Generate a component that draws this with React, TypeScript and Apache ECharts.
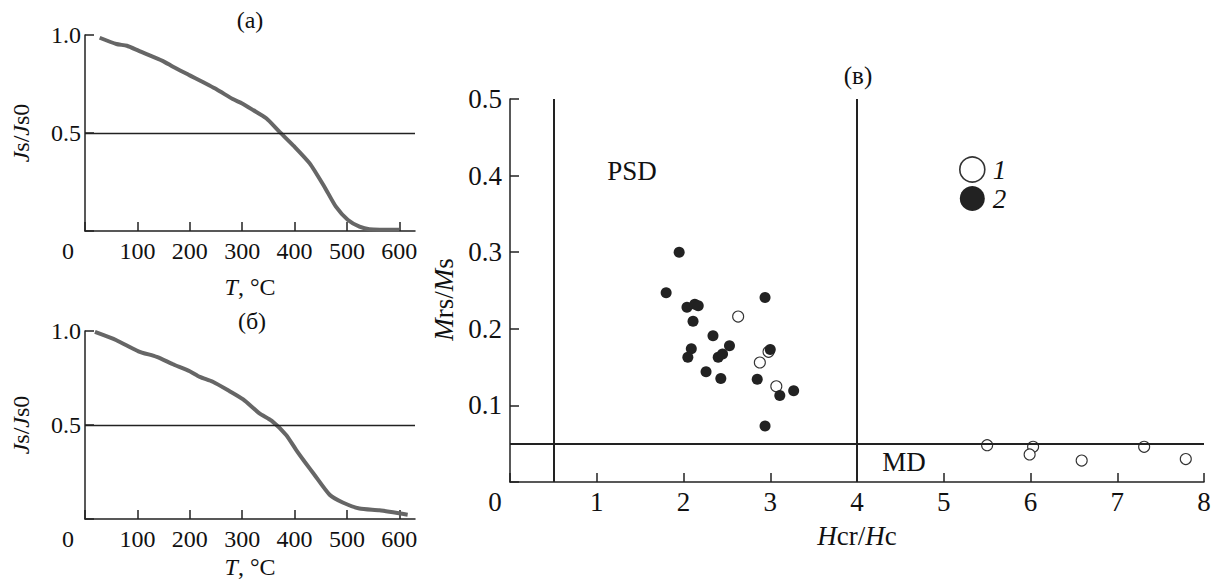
import React, { useEffect, useRef } from "react";
import * as echarts from "echarts";

// Panel (a): thermomagnetic curve
const tempA = [28, 60, 80, 102, 149, 168, 200, 251, 282, 300, 321, 346, 371, 400, 429, 457, 479, 502, 524, 543, 600];
const jsA = [0.986, 0.954, 0.945, 0.92, 0.867, 0.838, 0.794, 0.723, 0.673, 0.651, 0.617, 0.575, 0.507, 0.43, 0.345, 0.226, 0.124, 0.056, 0.022, 0.009, 0.006];

// Panel (б): thermomagnetic curve
const tempB = [19, 60, 102, 137, 168, 200, 219, 244, 276, 302, 333, 356, 384, 403, 419, 438, 467, 492, 524, 562, 616];
const jsB = [0.995, 0.951, 0.892, 0.862, 0.823, 0.786, 0.756, 0.73, 0.68, 0.636, 0.562, 0.523, 0.447, 0.368, 0.306, 0.235, 0.129, 0.088, 0.056, 0.046, 0.023];

// Panel (в): Day plot
const openHcr = [2.63, 2.98, 2.88, 3.07, 5.5, 6.03, 5.99, 6.59, 7.31, 7.79];
const openMrs = [0.216, 0.17, 0.156, 0.125, 0.048, 0.046, 0.036, 0.028, 0.046, 0.03];
const filledHcr = [1.95, 1.8, 2.04, 2.13, 2.17, 2.11, 2.94, 2.34, 2.53, 2.09, 2.05, 2.4, 2.45, 3.0, 2.26, 2.43, 2.85, 3.11, 3.27, 2.94];
const filledMrs = [0.3, 0.247, 0.228, 0.232, 0.23, 0.21, 0.241, 0.191, 0.178, 0.174, 0.163, 0.163, 0.167, 0.173, 0.144, 0.135, 0.134, 0.113, 0.119, 0.073];

const refJs = 0.5;
const psdLeft = 0.5;
const psdRight = 4;
const mdLine = 0.05;

const seriesNames = ["1", "2"];
const panelTitles = ["(a)", "(б)", "(в)"];

const FONT = "'Liberation Serif', 'Times New Roman', serif";
const INK = "#111";
const LINE = "#222";
const FS = 27;
const FSS = 24;

const zip = (a: number[], b: number[]) => a.map((v, i) => [v, b[i]]);

const mkRich = (fs: number) => ({
  i: { fontStyle: "italic", fontFamily: FONT, fontSize: fs, color: INK },
  n: { fontFamily: FONT, fontSize: fs, color: INK },
});

function zeroLabel(shift: number, fs: number) {
  return {
    fontFamily: FONT,
    fontSize: fs,
    color: INK,
    rich: { z: { fontFamily: FONT, fontSize: fs, color: INK, padding: [0, shift, 0, 0] } },
  };
}

function tempXAxis(gridIndex: number, nameGap: number) {
  return {
    type: "value",
    gridIndex,
    min: 0,
    max: 630,
    interval: 100,
    name: "{i|T}{n|, °C}",
    nameLocation: "middle",
    nameGap,
    nameTextStyle: { rich: mkRich(FSS) },
    axisLine: { lineStyle: { color: LINE, width: 1.5 } },
    axisTick: { inside: true, length: 9, lineStyle: { color: LINE, width: 1.5 } },
    splitLine: { show: false },
    axisLabel: {
      margin: 8,
      ...zeroLabel(34, FSS),
      formatter: (v: number) => (v === 0 ? "{z|0}" : String(v)),
    },
  };
}

function jsYAxis(gridIndex: number) {
  return {
    type: "value",
    gridIndex,
    min: 0,
    max: 1,
    interval: 0.5,
    name: "{i|J}{n|s/}{i|J}{n|s0}",
    nameLocation: "middle",
    nameGap: 52,
    nameTextStyle: { rich: mkRich(FSS) },
    axisLine: { lineStyle: { color: LINE, width: 1.5 } },
    axisTick: { inside: true, length: 9, lineStyle: { color: LINE, width: 1.5 } },
    splitLine: { show: false },
    axisLabel: {
      margin: 4,
      fontFamily: FONT,
      fontSize: FSS,
      color: INK,
      formatter: (v: number) => (v === 0 ? "" : v.toFixed(1)),
    },
  };
}

export default function App() {
  const ref = useRef<HTMLDivElement>(null);

  useEffect(() => {
    if (!ref.current) return;
    const chart = echarts.init(ref.current, undefined, { renderer: "svg" });
    const curveStyle = { color: "#666", width: 4 };
    const titleStyle = (fs: number) => ({ fontFamily: FONT, fontSize: fs, fontWeight: "normal", color: INK });
    const option: any = {
      animation: false,
      backgroundColor: "#fff",
      textStyle: { fontFamily: FONT },
      title: [
        { text: panelTitles[0], left: 245, top: 3, textAlign: "center", textStyle: titleStyle(FSS) },
        { text: panelTitles[1], left: 247, top: 304, textAlign: "center", textStyle: titleStyle(FSS) },
        { text: panelTitles[2], left: 853, top: 58, textAlign: "center", textStyle: titleStyle(FSS + 1) },
      ],
      grid: [
        { left: 85, top: 35, width: 330, height: 196 },
        { left: 85, top: 331, width: 330, height: 188 },
        { left: 510, top: 99, width: 694, height: 383 },
      ],
      legend: {
        data: [{ name: seriesNames[0], itemStyle: { borderWidth: 1.6 } }, seriesNames[1]],
        orient: "vertical",
        left: 954,
        top: 151,
        itemWidth: 25,
        itemHeight: 25,
        itemGap: 2,
        icon: "circle",
        textStyle: { fontFamily: FONT, fontStyle: "italic", fontSize: FS, color: INK, lineHeight: 25, padding: [0, 0, 0, 3] },
      },
      xAxis: [
        tempXAxis(0, 44),
        tempXAxis(1, 36),
        {
          type: "value",
          gridIndex: 2,
          min: 0,
          max: 8,
          interval: 1,
          name: "{i|H}{n|cr/}{i|H}{n|c}",
          nameLocation: "middle",
          nameGap: 40,
          nameTextStyle: { rich: mkRich(FS) },
          axisLine: { lineStyle: { color: LINE, width: 1.5 } },
          axisTick: { inside: true, length: 9, lineStyle: { color: LINE, width: 1.5 } },
          splitLine: { show: false },
          axisLabel: {
            margin: 6,
            ...zeroLabel(30, FS),
            formatter: (v: number) => (v === 0 ? "{z|0}" : String(v)),
          },
        },
      ],
      yAxis: [
        jsYAxis(0),
        jsYAxis(1),
        {
          type: "value",
          gridIndex: 2,
          min: 0,
          max: 0.5,
          interval: 0.1,
          name: "{i|M}{n|rs/}{i|M}{n|s}",
          nameLocation: "middle",
          nameGap: 48,
          nameTextStyle: { rich: mkRich(FS), padding: [0, 18, 0, 0] },
          axisLine: { lineStyle: { color: LINE, width: 1.5 } },
          axisTick: { inside: true, length: 9, lineStyle: { color: LINE, width: 1.5 } },
          splitLine: { show: false },
          axisLabel: {
            margin: 8,
            fontFamily: FONT,
            fontSize: FS,
            color: INK,
            formatter: (v: number) => (v === 0 ? "" : v.toFixed(1)),
          },
        },
      ],
      series: [
        {
          type: "line",
          xAxisIndex: 0,
          yAxisIndex: 0,
          data: zip(tempA, jsA),
          showSymbol: false,
          smooth: 0.2,
          lineStyle: curveStyle,
          markLine: {
            silent: true,
            symbol: "none",
            label: { show: false },
            lineStyle: { color: LINE, width: 1.3, type: "solid" },
            data: [{ yAxis: refJs }],
          },
        },
        {
          type: "line",
          xAxisIndex: 1,
          yAxisIndex: 1,
          data: zip(tempB, jsB),
          showSymbol: false,
          smooth: 0.2,
          lineStyle: curveStyle,
          markLine: {
            silent: true,
            symbol: "none",
            label: { show: false },
            lineStyle: { color: LINE, width: 1.3, type: "solid" },
            data: [{ yAxis: refJs }],
          },
        },
        {
          name: "domains",
          type: "scatter",
          xAxisIndex: 2,
          yAxisIndex: 2,
          data: [],
          z: 1,
          markLine: {
            silent: true,
            symbol: "none",
            label: { show: false },
            lineStyle: { color: LINE, width: 2, type: "solid" },
            data: [{ xAxis: psdLeft }, { xAxis: psdRight }, { yAxis: mdLine }],
          },
        },
        {
          name: seriesNames[0],
          type: "scatter",
          xAxisIndex: 2,
          yAxisIndex: 2,
          z: 3,
          symbol: "circle",
          symbolSize: 11,
          itemStyle: { color: "#fff", borderColor: "#333", borderWidth: 1.1, opacity: 1 },
          data: zip(openHcr, openMrs),
        },
        {
          name: seriesNames[1],
          type: "scatter",
          xAxisIndex: 2,
          yAxisIndex: 2,
          z: 4,
          symbol: "circle",
          symbolSize: 11,
          itemStyle: { color: "#222", opacity: 1 },
          data: zip(filledHcr, filledMrs),
        },
      ],
      graphic: [
        { type: "text", x: 632, y: 171, style: { text: "PSD", fontFamily: FONT, fontSize: FS, fill: INK, textAlign: "center", textVerticalAlign: "middle" } },
        { type: "text", x: 904, y: 462, style: { text: "MD", fontFamily: FONT, fontSize: FS, fill: INK, textAlign: "center", textVerticalAlign: "middle" } },
      ],
    };
    chart.setOption(option);
    return () => chart.dispose();
  }, []);

  return (
    <div
      ref={ref}
      style={{ position: "fixed", left: 0, top: 0, width: 1217, height: 585, background: "#fff" }}
    />
  );
}
